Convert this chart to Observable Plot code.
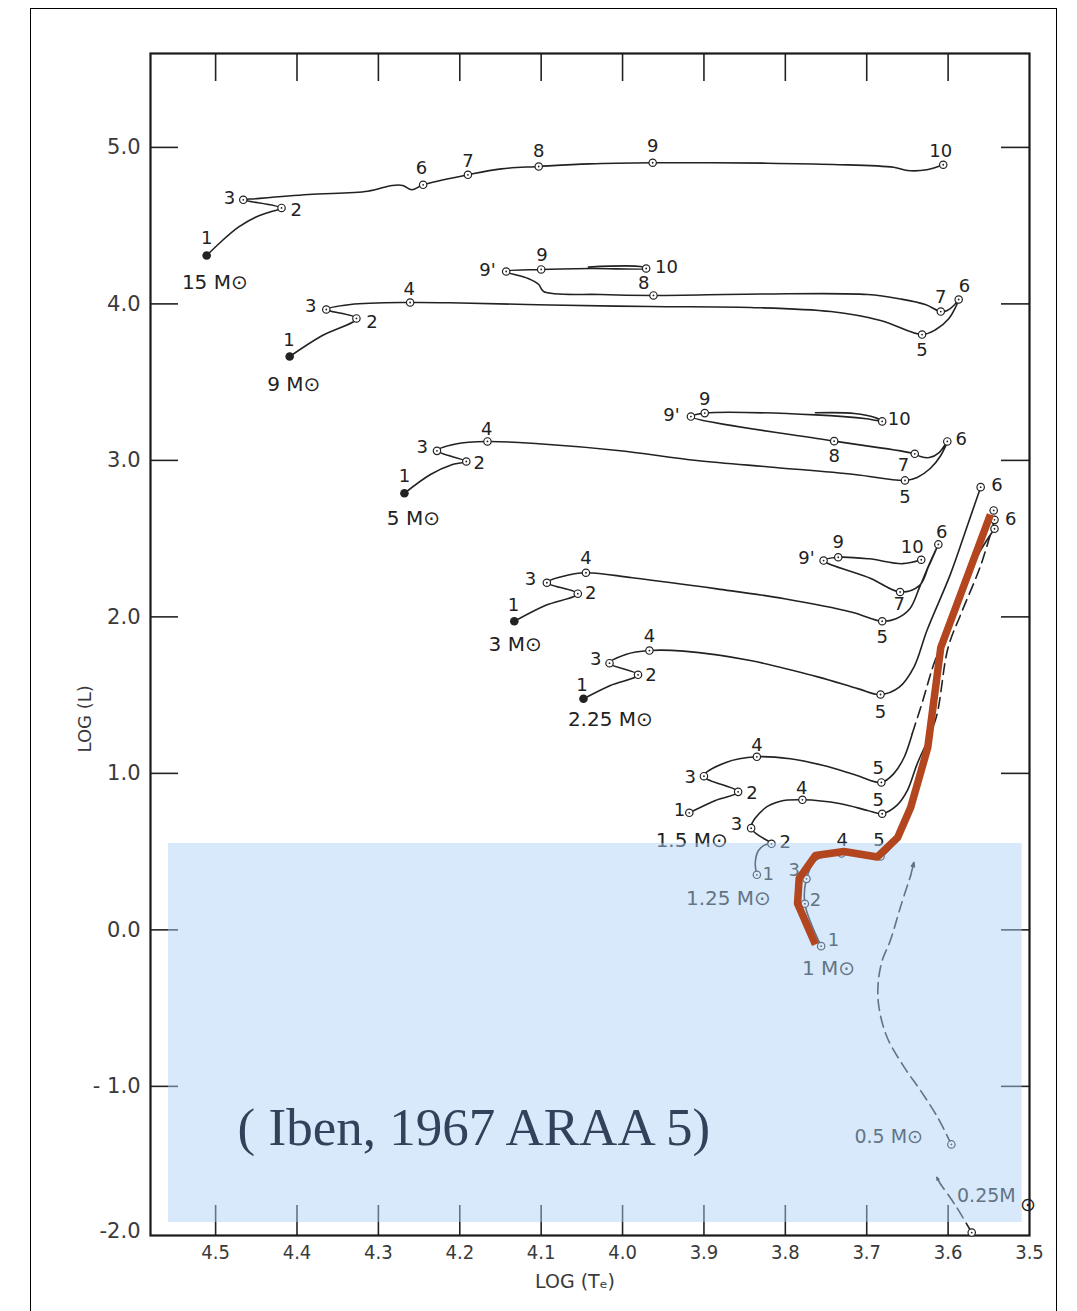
<!DOCTYPE html>
<html>
<head>
<meta charset="utf-8">
<script src="https://cdn.jsdelivr.net/npm/d3@7"></script>
<script src="https://cdn.jsdelivr.net/npm/@observablehq/plot@0.6"></script>
<style>
  html, body { margin: 0; padding: 0; background: #ffffff; }
  #wrap { position: relative; width: 1077px; height: 1311px; overflow: hidden; }
  #border { position: absolute; left: 30px; top: 8px; width: 1025px; height: 1310px;
            border-left: 1.5px solid #000; border-top: 1.5px solid #000; border-right: 1.5px solid #000;
            pointer-events: none; }
</style>
</head>
<body>
<div id="wrap"><div id="chart"></div><div id="border"></div></div>
<script>
// ---------- axis ticks ----------
const xTicks = [4.5, 4.4, 4.3, 4.2, 4.1, 4.0, 3.9, 3.8, 3.7, 3.6];
const xTickLabelValues = [4.5, 4.4, 4.3, 4.2, 4.1, 4.0, 3.9, 3.8, 3.7, 3.6, 3.5];
const xTickLabels = ["4.5", "4.4", "4.3", "4.2", "4.1", "4.0", "3.9", "3.8", "3.7", "3.6", "3.5"];
const yTicks = [5, 4, 3, 2, 1, 0, -1];
const yTickLabels = ["5.0", "4.0", "3.0", "2.0", "1.0", "0.0", "- 1.0"];
const yBottomTick = [-2];
const yBottomLabel = ["-2.0"];

// ---------- evolutionary tracks: [log Te, log L] ----------
const m15 = [[4.511,4.309],[4.494,4.394],[4.472,4.490],[4.451,4.554],[4.434,4.586],[4.419,4.613],
  [4.466,4.665],[4.451,4.672],[4.386,4.699],[4.313,4.720],[4.283,4.757],[4.270,4.757],[4.259,4.729],
  [4.245,4.761],[4.190,4.825],[4.149,4.863],[4.103,4.878],[4.041,4.895],[3.963,4.902],[3.822,4.899],
  [3.741,4.891],[3.667,4.873],[3.650,4.852],[3.626,4.857],[3.606,4.889]];
const m9 = [[4.409,3.664],[4.371,3.792],[4.327,3.907],[4.364,3.964],[4.334,3.996],[4.261,4.009],
  [4.199,4.006],[4.089,3.993],[3.966,3.983],[3.843,3.977],[3.744,3.951],[3.683,3.894],[3.632,3.804],
  [3.615,3.836],[3.599,3.907],[3.591,3.977],[3.587,4.028],[3.593,3.990],[3.601,3.958],[3.609,3.951],
  [3.628,3.996],[3.658,4.031],[3.699,4.060],[3.830,4.063],[3.962,4.054],[4.027,4.060],[4.097,4.079],
  [4.103,4.124],[4.116,4.162],[4.143,4.207],[4.100,4.220],[4.039,4.226],[3.971,4.226],[3.978,4.239],
  [4.042,4.236]];
const m5 = [[4.268,2.790],[4.236,2.910],[4.209,2.974],[4.192,2.993],[4.228,3.061],[4.205,3.105],
  [4.166,3.121],[4.103,3.106],[4.006,3.063],[3.909,2.999],[3.812,2.955],[3.715,2.910],[3.653,2.872],
  [3.638,2.891],[3.622,2.948],[3.609,3.031],[3.601,3.121],[3.611,3.050],[3.623,3.018],[3.634,3.025],
  [3.641,3.042],[3.740,3.123],[3.916,3.280],[3.899,3.302],[3.763,3.291],[3.700,3.266],[3.681,3.249],
  [3.690,3.274],[3.715,3.300],[3.763,3.304]];
const m3 = [[4.133,1.972],[4.095,2.073],[4.055,2.148],[4.093,2.218],[4.074,2.258],[4.045,2.282],
  [3.988,2.250],[3.884,2.179],[3.801,2.116],[3.718,2.030],[3.681,1.972],[3.664,1.988],[3.647,2.052],
  [3.635,2.190],[3.623,2.339],[3.612,2.463],[3.624,2.322],[3.635,2.201],[3.659,2.159],[3.695,2.245],
  [3.753,2.360],[3.735,2.381],[3.697,2.371],[3.656,2.340],[3.633,2.365]];
const m225 = [[4.048,1.477],[4.015,1.562],[3.981,1.630],[4.016,1.704],[3.996,1.760],[3.967,1.785],
  [3.925,1.781],[3.843,1.721],[3.759,1.615],[3.710,1.540],[3.683,1.504],[3.660,1.551],[3.642,1.679],
  [3.626,1.913],[3.597,2.275],[3.577,2.573],[3.560,2.829]];
const m1p5 = [[3.918,0.748],[3.886,0.827],[3.858,0.882],[3.900,0.982],[3.873,1.070],[3.835,1.106],
  [3.794,1.093],[3.753,1.050],[3.712,0.987],[3.682,0.942],[3.667,0.997],[3.654,1.103],[3.644,1.255]];
const m1p5Dashed = [[3.644,1.255],[3.631,1.466],[3.619,1.677],[3.609,1.817],[3.592,2.041],[3.569,2.341],[3.544,2.680]];
const m1p25 = [[3.835,0.352],[3.837,0.424],[3.833,0.507],[3.824,0.546],[3.817,0.550],[3.842,0.650],
  [3.826,0.774],[3.806,0.822],[3.779,0.831],[3.732,0.806],[3.699,0.763],[3.681,0.742],[3.663,0.795],
  [3.650,0.891],[3.638,1.061],[3.625,1.210]];
const m1p25Dashed = [[3.625,1.210],[3.614,1.370],[3.600,1.804],[3.584,2.022],[3.560,2.328],[3.543,2.620]];
const m1 = [[3.756,-0.104],[3.776,0.167],[3.774,0.326],[3.763,0.443],[3.731,0.488],[3.683,0.469],
  [3.663,0.584],[3.646,0.763],[3.625,1.159],[3.609,1.798],[3.569,2.341],[3.543,2.563]];
const m1Highlight = [[3.763,-0.093],[3.785,0.169],[3.783,0.328],[3.763,0.475],[3.728,0.501],[3.687,0.466],
  [3.662,0.590],[3.646,0.782],[3.625,1.165],[3.609,1.804],[3.548,2.654]];
const m0p5Dashed = [[3.596,-1.371],[3.613,-1.197],[3.634,-1.026],[3.654,-0.877],[3.675,-0.686],[3.685,-0.494],
  [3.686,-0.345],[3.681,-0.196],[3.671,-0.068],[3.658,0.155],[3.646,0.348]];
const m0p25Dashed = [[3.571,-1.934],[3.591,-1.761],[3.609,-1.627]];
// arrow heads: [Te1, L1, Te2, L2]
const arrowSegs = [[3.646,0.348,3.642,0.431],[3.609,-1.627,3.614,-1.582]];

// ---------- phase points ----------
const filledPoints = [[4.511,4.309],[4.409,3.664],[4.268,2.790],[4.133,1.972],[4.048,1.477]];
const openPoints = [
  [4.419,4.613],[4.466,4.665],[4.245,4.761],[4.190,4.825],[4.103,4.878],[3.963,4.902],[3.606,4.889],
  [4.327,3.907],[4.364,3.964],[4.261,4.009],[3.632,3.804],[3.587,4.028],[3.609,3.951],[3.962,4.054],[4.143,4.207],[4.100,4.220],[3.971,4.226],
  [4.192,2.993],[4.228,3.061],[4.166,3.121],[3.653,2.872],[3.601,3.121],[3.641,3.042],[3.740,3.123],[3.916,3.280],[3.899,3.302],[3.681,3.249],
  [4.055,2.148],[4.093,2.218],[4.045,2.282],[3.681,1.972],[3.612,2.463],[3.659,2.159],[3.753,2.360],[3.735,2.381],[3.633,2.365],
  [3.981,1.630],[4.016,1.704],[3.967,1.785],[3.683,1.504],[3.560,2.829],
  [3.918,0.748],[3.858,0.882],[3.900,0.982],[3.835,1.106],[3.682,0.942],[3.544,2.680],
  [3.835,0.352],[3.817,0.550],[3.842,0.650],[3.779,0.831],[3.681,0.742],[3.543,2.620],
  [3.756,-0.104],[3.776,0.167],[3.774,0.326],[3.731,0.488],[3.683,0.469],[3.543,2.563],
  [3.596,-1.371],[3.571,-1.934]];

// ---------- labels: [text, log Te, log L] ----------
const pointLabels = [
  ["1",4.511,4.418],["3",4.483,4.673],["2",4.401,4.597],["6",4.247,4.865],["7",4.190,4.910],["8",4.103,4.977],["9",3.963,5.006],["10",3.609,4.977],
  ["1",4.410,3.766],["3",4.383,3.983],["2",4.308,3.881],["4",4.262,4.092],["5",3.632,3.702],["6",3.580,4.111],["7",3.609,4.044],["8",3.974,4.130],["9'",4.166,4.213],["9",4.099,4.309],["10",3.946,4.233],
  ["1",4.268,2.897],["3",4.246,3.082],["2",4.176,2.980],["4",4.167,3.197],["5",3.653,2.763],["6",3.584,3.134],["7",3.655,2.967],["8",3.740,3.025],["9'",3.940,3.287],["9",3.899,3.389],["10",3.660,3.261],
  ["1",4.134,2.073],["2",4.039,2.148],["3",4.113,2.243],["4",4.045,2.375],["5",3.681,1.868],["6",3.608,2.539],["7",3.660,2.079],["9'",3.774,2.373],["9",3.735,2.477],["10",3.644,2.443],
  ["1",4.050,1.562],["2",3.965,1.630],["3",4.033,1.732],["4",3.967,1.877],["5",3.683,1.391],["6",3.540,2.840],
  ["1",3.930,0.763],["2",3.841,0.876],["3",3.917,0.976],["4",3.835,1.178],["5",3.686,1.033],
  ["1",3.821,0.354],["2",3.800,0.560],["3",3.860,0.675],["4",3.780,0.908],["5",3.686,0.831],
  ["1",3.741,-0.068],["2",3.763,0.192],["3",3.789,0.379],["4",3.730,0.571],["5",3.685,0.571],
  ["6",3.523,2.622]];
const massLabels = [["15 M⊙",4.501,4.137],["9 M⊙",4.404,3.485],["5 M⊙",4.257,2.629],["3 M⊙",4.132,1.824],
  ["2.25 M⊙",4.015,1.344],["1.5 M⊙",3.915,0.571],["1.25 M⊙",3.870,0.200],["1 M⊙",3.747,-0.247]];
const smallMassLabels = [["0.5 M⊙",3.673,-1.326],["0.25M",3.553,-1.697],["⊙",3.502,-1.755]];

// ---------- highlight box and citation ----------
const highlightBox = [[4.558, 3.509, -1.870, 0.552]];
const citation = [["( Iben, 1967 ARAA 5)", 4.473, -1.269]];

const rows = (name, pts) => pts.map(([Te, L]) => ({Te, L, track: name}));
const solidRows = [
  ...rows("15", m15), ...rows("9", m9), ...rows("5", m5), ...rows("3", m3), ...rows("2.25", m225),
  ...rows("1.5", m1p5), ...rows("1.25", m1p25), ...rows("1", m1)];
const dashedRows = [...rows("1.5d", m1p5Dashed), ...rows("1.25d", m1p25Dashed),
  ...rows("0.5", m0p5Dashed), ...rows("0.25", m0p25Dashed)];
const redRows = rows("1r", m1Highlight);

const INK = "#222222";
const W = 1077, H = 1311, ML = 150, MR = 48, MT = 53, MB = 76;
const frameW = W - ML - MR, frameH = H - MT - MB;

const chart = Plot.plot({
  width: W, height: H,
  marginLeft: ML, marginRight: MR, marginTop: MT, marginBottom: MB,
  x: {domain: [4.58, 3.5], axis: null},
  y: {domain: [-1.953, 5.6], axis: null},
  style: {fontFamily: "DejaVu Sans, sans-serif", background: "#ffffff", overflow: "visible"},
  marks: [
    // inward tick marks
    Plot.ruleX(xTicks, {insetTop: frameH - 30, stroke: INK, strokeWidth: 1.6}),
    Plot.ruleX(xTicks, {insetBottom: frameH - 28, stroke: INK, strokeWidth: 1.6}),
    Plot.ruleY(yTicks, {insetRight: frameW - 28, stroke: INK, strokeWidth: 1.6}),
    Plot.ruleY(yTicks, {insetLeft: frameW - 28, stroke: INK, strokeWidth: 1.6}),
    Plot.frame({stroke: "#1a1a1a", strokeWidth: 2.2}),
    // tick labels
    Plot.text(yTicks, {y: d => d, frameAnchor: "left", textAnchor: "end", dx: -10,
      text: (d, i) => yTickLabels[i], fontSize: 21, fill: "#3a3a3a"}),
    Plot.text(yBottomTick, {y: d => d, frameAnchor: "left", textAnchor: "end", dx: -10, dy: -12,
      text: (d, i) => yBottomLabel[i], fontSize: 21, fill: "#3a3a3a"}),
    Plot.text(xTickLabelValues, {x: d => d, frameAnchor: "bottom", dy: 23,
      text: (d, i) => xTickLabels[i], fontSize: 20, fill: "#3a3a3a", fontFamily: "DejaVu Sans Condensed, DejaVu Sans, sans-serif"}),
    // axis titles
    Plot.text(["LOG (Tₑ)"], {frameAnchor: "bottom", dy: 52, dx: -15, text: d => d, fontSize: 19, fill: "#3a3a3a"}),
    Plot.text(["LOG (L)"], {frameAnchor: "left", dx: -65, dy: 108, rotate: -90, text: d => d, fontSize: 18, fill: "#3a3a3a"}),
    // tracks
    Plot.line(solidRows, {x: "Te", y: "L", z: "track", stroke: INK, strokeWidth: 1.6, curve: "catmull-rom"}),
    Plot.line(dashedRows, {x: "Te", y: "L", z: "track", stroke: INK, strokeWidth: 1.6, strokeDasharray: "11,6", curve: "catmull-rom"}),
    Plot.arrow(arrowSegs, {x1: d => d[0], y1: d => d[1], x2: d => d[2], y2: d => d[3],
      stroke: INK, strokeWidth: 1.6, headLength: 11, headAngle: 40}),
    // phase points
    Plot.dot(openPoints, {x: d => d[0], y: d => d[1], r: 3.7, fill: "white", stroke: INK, strokeWidth: 1.2}),
    Plot.dot(openPoints, {x: d => d[0], y: d => d[1], r: 0.9, fill: INK}),
    Plot.dot(filledPoints, {x: d => d[0], y: d => d[1], r: 4.3, fill: INK}),
    // labels
    Plot.text(pointLabels, {x: d => d[1], y: d => d[2], text: d => d[0], fontSize: 18, fill: INK}),
    Plot.text(massLabels, {x: d => d[1], y: d => d[2], text: d => d[0], fontSize: 20, fill: INK}),
    Plot.text(smallMassLabels, {x: d => d[1], y: d => d[2], text: d => d[0], fontSize: 19, fill: INK}),
    // translucent blue highlight
    Plot.rect(highlightBox, {x1: d => d[0], x2: d => d[1], y1: d => d[2], y2: d => d[3],
      fill: "#a9d0f5", fillOpacity: 0.47}),
    // highlighted 1 Msun track
    Plot.line(redRows, {x: "Te", y: "L", stroke: "#b3461f", strokeWidth: 7.5, strokeLinejoin: "round", strokeLinecap: "butt"}),
    // citation
    Plot.text(citation, {x: d => d[1], y: d => d[2], text: d => d[0], textAnchor: "start",
      fontFamily: "Liberation Serif, Times New Roman, serif", fontSize: 53, fill: "#33425a"})
  ]
});
document.getElementById("chart").appendChild(chart);
</script>
</body>
</html>
